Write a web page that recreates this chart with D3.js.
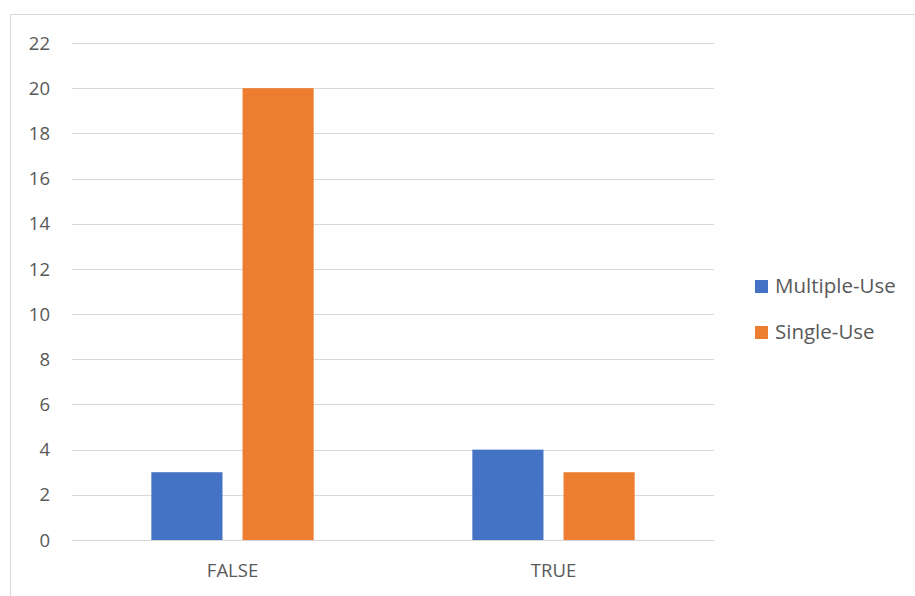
<!DOCTYPE html>
<html><head><meta charset="utf-8">
<script src="https://cdn.jsdelivr.net/npm/d3@7"></script>
<style>body{margin:0;background:#fff}svg{display:block}</style>
</head><body>
<svg id="c" width="915" height="596"></svg>
<script>
const categories = ["FALSE", "TRUE"];
const seriesNames = ["Multiple-Use", "Single-Use"];
const multipleUse = [3, 4];
const singleUse = [20, 3];
const yTicks = [0, 2, 4, 6, 8, 10, 12, 14, 16, 18, 20, 22];
const colors = ["#4472c4", "#ed7d31"];

(function () {
const svg = d3.select("#c");
const font = "'Open Sans', 'Noto Sans', sans-serif";
svg.append("rect").attr("x", 10.5).attr("y", 14.5).attr("width", 910).attr("height", 600)
  .attr("fill", "#fff").attr("stroke", "#d9d9d9").attr("stroke-width", 1);

const pLeft = 72, pRight = 714, pTop = 43, pBottom = 540;
const x = d3.scaleBand().domain(categories).range([pLeft, pRight]);
const y = d3.scaleLinear().domain([0, 22]).range([pBottom, pTop]);
const xs = d3.scaleBand().domain(seriesNames).range([0, x.bandwidth()]).paddingInner(0.22).paddingOuter(0.87);

const g = svg.append("g");
g.selectAll("line.grid").data(yTicks).join("line")
  .attr("x1", pLeft).attr("x2", pRight)
  .attr("y1", d => Math.round(y(d)) + 0.5).attr("y2", d => Math.round(y(d)) + 0.5)
  .attr("stroke", "#d9d9d9").attr("stroke-width", 1);

g.selectAll("text.yt").data(yTicks).join("text")
  .attr("x", 50).attr("y", d => y(d)).attr("dy", "0.36em")
  .attr("text-anchor", "end").attr("fill", "#595959")
  .style("font-family", font).style("font-size", "18.5px").text(d => d);

const data = categories.map((c, i) => ({c, vals: [multipleUse[i], singleUse[i]]}));
const grp = g.selectAll("g.cat").data(data).join("g").attr("transform", d => `translate(${x(d.c)},0)`);
grp.selectAll("rect").data(d => d.vals.map((v, j) => ({v, s: seriesNames[j], j}))).join("rect")
  .attr("x", d => xs(d.s)).attr("width", xs.bandwidth())
  .attr("y", d => y(d.v)).attr("height", d => y(0) - y(d.v))
  .attr("fill", d => colors[d.j]);

g.selectAll("text.xt").data(categories).join("text")
  .attr("x", d => x(d) + x.bandwidth() / 2).attr("y", 577)
  .attr("text-anchor", "middle").attr("fill", "#595959")
  .style("font-family", font).style("font-size", "18.5px").text(d => d);

const lg = svg.append("g");
seriesNames.forEach((s, i) => {
  const base = 293 + i * 46;
  lg.append("rect").attr("x", 755).attr("y", base - 13).attr("width", 13).attr("height", 13).attr("fill", colors[i]);
  lg.append("text").attr("x", 775).attr("y", base).attr("fill", "#595959")
    .style("font-family", font).style("font-size", "20.5px").text(s);
});
})();
</script>
</body></html>
